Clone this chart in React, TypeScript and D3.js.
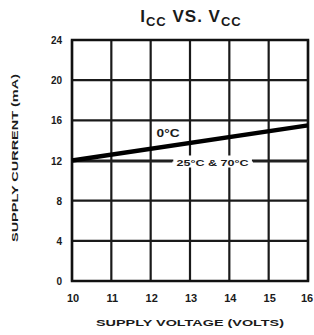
import * as d3 from 'd3'
import React from 'react'

// data
const voltages = [10, 16]
const current0C = [12, 15.5]
const current25to70C = [11.9, 11.9]
const xTicks = [10, 11, 12, 13, 14, 15, 16]
const yTicks = [0, 4, 8, 12, 16, 20, 24]

const width = 314
const height = 335
const margin = { top: 40, right: 6, bottom: 54, left: 72 }

const App = () => {
  const innerW = width - margin.left - margin.right
  const innerH = height - margin.top - margin.bottom

  const x = d3.scaleLinear().domain([10, 16]).range([0, innerW])
  const y = d3.scaleLinear().domain([0, 24]).range([innerH, 0])

  const line = d3
    .line<number>()
    .x((d, i) => x(voltages[i]))
    .y((d) => y(d))

  // flat 25°C & 70°C curve, broken where the label sits
  const gapStart = 12.55
  const gapEnd = 14.6
  const flatY = y(current25to70C[0])

  const font = 'Arial, "Liberation Sans", sans-serif'
  const ink = '#1a1a1a'

  return (
    <div style={ { position: 'absolute', left: 0, top: 0, background: '#fff' } }>
      <svg width={ width } height={ height } style={ { display: 'block' } }>
        <rect width={ width } height={ height } fill='#fff' />
        <text
          x={ 191 }
          y={ 22 }
          textAnchor='middle'
          fontFamily={ font }
          fontWeight='bold'
          fontSize={ 17 }
          letterSpacing={ 1 }
          fill={ ink }
        >
          I<tspan fontSize={ 13 } dy={ 4 }>CC</tspan>
          <tspan dy={ -4 }> VS. V</tspan>
          <tspan fontSize={ 13 } dy={ 4 }>CC</tspan>
        </text>
        <g transform={ `translate(${margin.left},${margin.top})` }>
          {/* grid */}
          { xTicks.map((t) => (
            <line
              key={ 'vx' + t }
              x1={ x(t) }
              x2={ x(t) }
              y1={ 0 }
              y2={ innerH }
              stroke={ ink }
              strokeWidth={ 2.2 }
            />
          )) }
          { yTicks.map((t) => (
            <line
              key={ 'hy' + t }
              x1={ 0 }
              x2={ innerW }
              y1={ y(t) }
              y2={ y(t) }
              stroke={ ink }
              strokeWidth={ 2.2 }
            />
          )) }
          <rect x={ 0 } y={ 0 } width={ innerW } height={ innerH } fill='none' stroke='#111' strokeWidth={ 2.5 } />

          {/* 25°C & 70°C */}
          <line x1={ x(10) } x2={ x(gapStart) } y1={ flatY } y2={ flatY } stroke='#222' strokeWidth={ 1.8 } />
          <line x1={ x(gapEnd) } x2={ x(16) } y1={ flatY } y2={ flatY } stroke='#222' strokeWidth={ 1.8 } />
          <rect x={ x(gapStart) + 1 } y={ flatY - 6 } width={ x(gapEnd) - x(gapStart) - 2 } height={ 12 } fill='#fff' />
          <text
            x={ (x(gapStart) + x(gapEnd)) / 2 }
            y={ flatY + 4 }
            textAnchor='middle'
            fontFamily={ font }
            fontWeight='bold'
            fontSize={ 9 }
            textLength={ 72 }
            lengthAdjust='spacingAndGlyphs'
            fill={ ink }
          >
            25°C &amp; 70°C
          </text>

          {/* 0°C */}
          <path d={ line(current0C) || '' } fill='none' stroke='#000' strokeWidth={ 4.5 } />
          <rect x={ x(12.1) } y={ y(14.3) - 9 } width={ 28 } height={ 11 } fill='#fff' />
          <text
            x={ x(12.15) }
            y={ y(14.3) }
            fontFamily={ font }
            fontWeight='bold'
            fontSize={ 10 }
            textLength={ 23 }
            lengthAdjust='spacingAndGlyphs'
            fill={ ink }
          >
            0°C
          </text>

          {/* axis labels */}
          { yTicks.map((t) => (
            <text
              key={ 'yl' + t }
              x={ -10 }
              y={ y(t) + 4 }
              textAnchor='end'
              fontFamily={ font }
              fontWeight='bold'
              fontSize={ 10 }
              fill={ ink }
            >
              { t }
            </text>
          )) }
          { xTicks.map((t) => (
            <text
              key={ 'xl' + t }
              x={ t === 16 ? x(t) - 1 : x(t) + 1 }
              y={ innerH + 21 }
              textAnchor='middle'
              fontFamily={ font }
              fontWeight='bold'
              fontSize={ 11 }
              fill={ ink }
            >
              { t }
            </text>
          )) }
          <text
            x={ 190 - margin.left }
            y={ innerH + 45 }
            textAnchor='middle'
            fontFamily={ font }
            fontWeight='bold'
            fontSize={ 9 }
            textLength={ 188 }
            lengthAdjust='spacingAndGlyphs'
            fill={ ink }
          >
            SUPPLY VOLTAGE (VOLTS)
          </text>
          <text
            transform={ `translate(${18 - margin.left},${158 - margin.top}) rotate(-90)` }
            textAnchor='middle'
            fontFamily={ font }
            fontWeight='bold'
            fontSize={ 9 }
            textLength={ 168 }
            lengthAdjust='spacingAndGlyphs'
            fill={ ink }
          >
            SUPPLY CURRENT (mA)
          </text>
        </g>
      </svg>
    </div>
  )
}

export default App
